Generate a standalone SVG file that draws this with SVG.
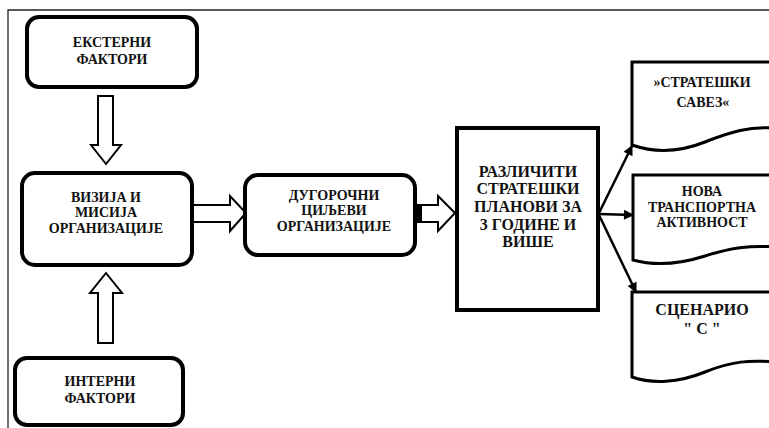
<svg xmlns="http://www.w3.org/2000/svg" width="769" height="428" viewBox="0 0 769 428">
  <defs>
    <style>
      .frame { fill: none; stroke: #222; stroke-width: 1.3; }
      .box { fill: #fff; stroke: #000; stroke-width: 4; }
      .doc { fill: #fff; stroke: #000; stroke-width: 3; }
      .block { fill: #fff; stroke: #000; stroke-width: 2; stroke-linejoin: miter; }
      .fan { fill: none; stroke: #000; stroke-width: 2.5; }
      .lbl { font-weight: bold; fill: #111; text-anchor: middle; }
      .t14 { font-size: 14px; }
      .t16 { font-size: 16px; }
    </style>
    <marker id="head" viewBox="0 0 10 10" refX="9" refY="5" markerWidth="4.6" markerHeight="4" markerUnits="strokeWidth" orient="auto">
      <path d="M0,0 L10,5 L0,10 Z" fill="#000"/>
    </marker>
  </defs>

  <!-- outer frame -->
  <path class="frame" d="M8,428 V10 H769"/>

  <g id="connectors">
    <!-- external factors down to vision -->
    <polygon class="block" points="98,96 113,96 113,145 121,145 106,164 91,145 98,145"/>
    <!-- internal factors up to vision -->
    <polygon class="block" points="106,273 122,293 113,293 113,343 98,343 98,293 90,293"/>
    <!-- vision to long-term goals -->
    <polygon class="block" points="192,205 230,205 230,196 246,213 230,231 230,222 192,222"/>
    <!-- long-term goals to strategic plans -->
    <polygon class="block" points="415,205 438,205 438,196 455,213 438,231 438,222 415,222"/>
    <rect x="415" y="205" width="7" height="17" fill="#000"/>
    <!-- strategic plans fanning out -->
    <line class="fan" x1="599" y1="213" x2="632" y2="146" marker-end="url(#head)"/>
    <line class="fan" x1="599" y1="214" x2="633" y2="215" marker-end="url(#head)"/>
    <line class="fan" x1="599" y1="215" x2="636" y2="292" marker-end="url(#head)"/>
  </g>

  <g font-family="'Liberation Serif', 'DejaVu Serif', 'Times New Roman', serif">
  <g id="ext">
    <rect class="box" x="27" y="17" width="170" height="70" rx="12"/>
    <text class="lbl t14" x="112" y="47">ЕКСТЕРНИ</text>
    <text class="lbl t14" x="112" y="64">ФАКТОРИ</text>
  </g>

  <g id="vision">
    <rect class="box" x="22" y="173" width="170" height="92" rx="13"/>
    <text class="lbl t14" x="106" y="202">ВИЗИЈА И</text>
    <text class="lbl t14" x="106" y="217">МИСИЈА</text>
    <text class="lbl t14" x="106" y="233">ОРГАНИЗАЦИЈЕ</text>
  </g>

  <g id="int">
    <rect class="box" x="15" y="358" width="168" height="67" rx="12"/>
    <text class="lbl t14" x="100" y="386">ИНТЕРНИ</text>
    <text class="lbl t14" x="100" y="403">ФАКТОРИ</text>
  </g>

  <g id="goals">
    <rect class="box" x="245" y="175" width="170" height="80" rx="13"/>
    <text class="lbl t14" x="334" y="200">ДУГОРОЧНИ</text>
    <text class="lbl t14" x="334" y="215">ЦИЉЕВИ</text>
    <text class="lbl t14" x="334" y="231">ОРГАНИЗАЦИЈЕ</text>
  </g>

  <g id="plans">
    <rect class="box" x="457" y="128" width="141" height="182"/>
    <text class="lbl t16" x="528" y="177">РАЗЛИЧИТИ</text>
    <text class="lbl t16" x="528" y="194">СТРАТЕШКИ</text>
    <text class="lbl t16" x="528" y="212">ПЛАНОВИ ЗА</text>
    <text class="lbl t16" x="528" y="230">3 ГОДИНЕ И</text>
    <text class="lbl t16" x="528" y="247">ВИШЕ</text>
  </g>

  <g id="alliance">
    <path class="doc" d="M775,62 H632 V145 C655,153 680,152 705,142 S750,126 775,128 Z"/>
    <text class="lbl t14" x="702" y="87">»СТРАТЕШКИ</text>
    <text class="lbl t14" x="703" y="107">САВЕЗ«</text>
  </g>

  <g id="transport">
    <path class="doc" d="M775,175 H633 V260 C655,266 680,264 705,256 S750,245 775,247 Z"/>
    <text class="lbl t14" x="702" y="196">НОВА</text>
    <text class="lbl t14" x="702" y="212">ТРАНСПОРТНА</text>
    <text class="lbl t14" x="702" y="227">АКТИВНОСТ</text>
  </g>

  <g id="scenario">
    <path class="doc" d="M775,292 H632 V377 C652,384 678,383 705,372 S750,360 775,362 Z"/>
    <text class="lbl t16" x="702" y="315">СЦЕНАРИО</text>
    <text class="lbl t16" x="702" y="334">" С "</text>
  </g>
  </g>
</svg>
